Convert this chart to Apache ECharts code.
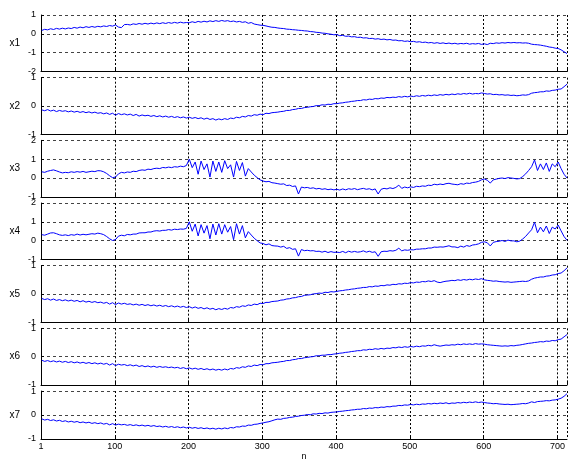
<!DOCTYPE html>
<html>
<head>
<meta charset="utf-8">
<script src="https://cdn.jsdelivr.net/npm/echarts@6/dist/echarts.min.js"></script>
<style>
  html, body { margin: 0; padding: 0; background: #fff; }
  #main { width: 568px; height: 462px; }
</style>
</head>
<body>
<div id="main"></div>
<script>
// samples read every 4 steps: n = 1, 5, 9, ... 713
var step = 4;
var xTicks = [0, 100, 200, 300, 400, 500, 600, 700];
var names = ['x1', 'x2', 'x3', 'x4', 'x5', 'x6', 'x7'];
var yMin = [-2, -1, -1, -1, -1, -1, -1];
var yMax = [1, 1, 2, 2, 1, 1, 1];

var x1 = [0.18,0.24,0.21,0.27,0.23,0.29,0.25,0.3,0.26,0.31,
  0.28,0.34,0.3,0.36,0.32,0.38,0.34,0.39,0.35,0.4,
  0.37,0.42,0.39,0.44,0.41,0.47,0.36,0.33,0.49,0.5,
  0.47,0.53,0.5,0.55,0.51,0.56,0.52,0.57,0.53,0.58,
  0.54,0.59,0.55,0.6,0.56,0.61,0.57,0.62,0.58,0.6,
  0.59,0.64,0.6,0.66,0.62,0.67,0.63,0.69,0.65,0.7,
  0.66,0.71,0.67,0.7,0.65,0.68,0.63,0.66,0.61,0.64,
  0.56,0.6,0.52,0.49,0.46,0.45,0.42,0.38,0.35,0.34,
  0.31,0.29,0.28,0.25,0.24,0.22,0.21,0.19,0.18,0.16,
  0.15,0.12,0.11,0.08,0.07,0.04,0.03,0.0,-0.02,-0.05,
  -0.04,-0.1,-0.08,-0.13,-0.12,-0.16,-0.15,-0.19,-0.18,-0.22,
  -0.21,-0.25,-0.24,-0.28,-0.26,-0.3,-0.28,-0.32,-0.3,-0.34,
  -0.33,-0.37,-0.36,-0.4,-0.38,-0.42,-0.4,-0.44,-0.42,-0.46,
  -0.44,-0.48,-0.46,-0.5,-0.47,-0.51,-0.48,-0.52,-0.49,-0.53,
  -0.5,-0.54,-0.51,-0.53,-0.5,-0.55,-0.52,-0.54,-0.51,-0.56,
  -0.53,-0.57,-0.5,-0.52,-0.48,-0.5,-0.47,-0.49,-0.46,-0.48,
  -0.46,-0.48,-0.47,-0.49,-0.48,-0.5,-0.55,-0.57,-0.58,-0.6,
  -0.63,-0.66,-0.7,-0.72,-0.76,-0.78,-0.85,-0.95,-1.05];

var x2 = [-0.14,-0.17,-0.13,-0.18,-0.15,-0.2,-0.16,-0.19,-0.17,-0.21,
  -0.18,-0.22,-0.19,-0.23,-0.2,-0.24,-0.21,-0.25,-0.22,-0.26,
  -0.24,-0.28,-0.25,-0.3,-0.26,-0.33,-0.27,-0.31,-0.28,-0.32,
  -0.29,-0.34,-0.3,-0.36,-0.32,-0.35,-0.33,-0.37,-0.34,-0.38,
  -0.35,-0.39,-0.36,-0.4,-0.37,-0.41,-0.38,-0.42,-0.39,-0.43,
  -0.4,-0.44,-0.41,-0.45,-0.42,-0.47,-0.43,-0.48,-0.45,-0.5,
  -0.46,-0.49,-0.45,-0.48,-0.43,-0.45,-0.4,-0.42,-0.37,-0.39,
  -0.34,-0.36,-0.31,-0.33,-0.29,-0.31,-0.26,-0.27,-0.24,-0.23,
  -0.22,-0.2,-0.19,-0.16,-0.16,-0.13,-0.12,-0.09,-0.09,-0.06,
  -0.05,-0.03,-0.02,0.01,0.01,0.04,0.03,0.06,0.05,0.08,
  0.08,0.1,0.11,0.13,0.14,0.16,0.17,0.19,0.19,0.22,
  0.21,0.24,0.23,0.26,0.25,0.28,0.27,0.3,0.29,0.31,
  0.3,0.33,0.31,0.34,0.32,0.35,0.33,0.36,0.34,0.37,
  0.35,0.38,0.36,0.39,0.37,0.4,0.38,0.41,0.39,0.42,
  0.4,0.43,0.41,0.44,0.42,0.45,0.42,0.44,0.43,0.46,
  0.44,0.42,0.43,0.4,0.41,0.39,0.4,0.38,0.39,0.37,
  0.38,0.36,0.37,0.39,0.38,0.4,0.45,0.47,0.48,0.5,
  0.5,0.53,0.52,0.55,0.56,0.59,0.6,0.68,0.77];

var x3 = [0.33,0.3,0.36,0.4,0.43,0.38,0.32,0.27,0.3,0.28,
  0.33,0.3,0.34,0.31,0.35,0.3,0.33,0.36,0.34,0.39,
  0.38,0.33,0.24,0.12,0.02,0.05,0.22,0.3,0.27,0.32,
  0.3,0.36,0.34,0.4,0.43,0.41,0.47,0.45,0.5,0.52,
  0.5,0.56,0.54,0.58,0.55,0.6,0.58,0.63,0.6,0.66,
  1.0,0.55,0.85,0.2,0.9,0.45,0.75,0.05,0.9,0.35,
  0.85,0.3,0.92,0.5,0.7,0.05,0.88,0.4,0.82,0.1,
  0.5,0.32,0.15,0.02,-0.1,-0.16,-0.2,-0.18,-0.25,-0.27,
  -0.3,-0.33,-0.31,-0.4,-0.38,-0.45,-0.42,-0.85,-0.48,-0.52,
  -0.5,-0.55,-0.52,-0.58,-0.55,-0.6,-0.57,-0.62,-0.59,-0.63,
  -0.6,-0.64,-0.58,-0.63,-0.57,-0.6,-0.56,-0.62,-0.58,-0.55,
  -0.6,-0.57,-0.63,-0.58,-0.85,-0.6,-0.55,-0.58,-0.52,-0.56,
  -0.5,-0.38,-0.55,-0.48,-0.52,-0.47,-0.5,-0.44,-0.46,-0.42,
  -0.44,-0.38,-0.4,-0.33,-0.36,-0.32,-0.35,-0.3,-0.28,-0.32,
  -0.34,-0.36,-0.3,-0.33,-0.27,-0.29,-0.24,-0.22,-0.18,-0.1,
  -0.05,-0.12,-0.27,-0.1,-0.06,-0.02,0.0,-0.03,0.02,0.0,
  -0.02,-0.05,-0.03,0.08,0.22,0.4,0.6,0.96,0.4,0.75,
  0.45,0.8,0.35,0.75,0.6,0.85,0.5,0.2,0.0];

var x4 = [0.32,0.29,0.35,0.41,0.42,0.37,0.31,0.28,0.31,0.27,
  0.32,0.29,0.35,0.3,0.34,0.31,0.34,0.37,0.35,0.4,
  0.37,0.32,0.22,0.1,0.01,0.06,0.24,0.29,0.26,0.33,
  0.31,0.35,0.35,0.41,0.42,0.42,0.46,0.46,0.51,0.53,
  0.51,0.55,0.55,0.59,0.56,0.61,0.59,0.62,0.61,0.65,
  1.0,0.5,0.88,0.25,0.85,0.4,0.8,0.1,0.88,0.3,
  0.9,0.35,0.85,0.45,0.75,0.05,0.9,0.35,0.8,0.15,
  0.48,0.3,0.13,0.0,-0.12,-0.15,-0.22,-0.17,-0.26,-0.28,
  -0.29,-0.34,-0.3,-0.41,-0.37,-0.46,-0.43,-0.82,-0.47,-0.53,
  -0.51,-0.54,-0.53,-0.57,-0.56,-0.61,-0.56,-0.63,-0.58,-0.62,
  -0.61,-0.63,-0.57,-0.64,-0.56,-0.61,-0.57,-0.61,-0.59,-0.54,
  -0.61,-0.56,-0.62,-0.59,-0.83,-0.59,-0.56,-0.57,-0.53,-0.55,
  -0.51,-0.4,-0.54,-0.49,-0.51,-0.48,-0.49,-0.45,-0.45,-0.43,
  -0.43,-0.39,-0.39,-0.34,-0.35,-0.33,-0.34,-0.31,-0.27,-0.33,
  -0.33,-0.37,-0.29,-0.34,-0.26,-0.3,-0.23,-0.21,-0.17,-0.09,
  -0.06,-0.11,-0.28,-0.09,-0.05,-0.03,0.01,-0.04,0.03,-0.01,
  -0.01,-0.06,-0.02,0.09,0.23,0.41,0.58,0.98,0.42,0.72,
  0.47,0.78,0.38,0.72,0.62,0.83,0.52,0.22,0.02];

var x5 = [-0.16,-0.2,-0.17,-0.22,-0.18,-0.23,-0.2,-0.24,-0.21,-0.25,
  -0.22,-0.26,-0.23,-0.28,-0.24,-0.29,-0.26,-0.3,-0.27,-0.31,
  -0.29,-0.33,-0.3,-0.36,-0.31,-0.38,-0.32,-0.36,-0.33,-0.37,
  -0.35,-0.39,-0.36,-0.4,-0.37,-0.41,-0.38,-0.42,-0.39,-0.43,
  -0.4,-0.44,-0.41,-0.45,-0.42,-0.46,-0.43,-0.47,-0.44,-0.48,
  -0.45,-0.5,-0.46,-0.51,-0.48,-0.53,-0.49,-0.54,-0.51,-0.56,
  -0.52,-0.55,-0.51,-0.54,-0.48,-0.5,-0.45,-0.47,-0.42,-0.44,
  -0.39,-0.41,-0.36,-0.38,-0.33,-0.34,-0.3,-0.3,-0.27,-0.26,
  -0.25,-0.22,-0.21,-0.18,-0.17,-0.14,-0.13,-0.1,-0.09,-0.05,
  -0.04,-0.03,0.0,0.01,0.03,0.02,0.06,0.05,0.08,0.07,
  0.09,0.11,0.12,0.14,0.15,0.17,0.18,0.2,0.21,0.23,
  0.23,0.26,0.25,0.28,0.27,0.3,0.29,0.32,0.31,0.34,
  0.33,0.36,0.35,0.38,0.37,0.4,0.39,0.42,0.41,0.44,
  0.43,0.46,0.44,0.47,0.42,0.4,0.43,0.45,0.46,0.48,
  0.47,0.5,0.48,0.51,0.49,0.52,0.5,0.53,0.51,0.54,
  0.5,0.48,0.47,0.45,0.46,0.44,0.43,0.42,0.43,0.41,
  0.42,0.43,0.44,0.45,0.44,0.46,0.52,0.56,0.58,0.6,
  0.6,0.63,0.64,0.67,0.68,0.72,0.74,0.82,0.92];

var x6 = [-0.13,-0.17,-0.14,-0.18,-0.15,-0.19,-0.16,-0.2,-0.17,-0.21,
  -0.18,-0.22,-0.19,-0.23,-0.2,-0.24,-0.21,-0.25,-0.22,-0.26,
  -0.23,-0.27,-0.24,-0.3,-0.25,-0.32,-0.27,-0.3,-0.28,-0.32,
  -0.29,-0.33,-0.3,-0.35,-0.32,-0.36,-0.33,-0.37,-0.34,-0.38,
  -0.35,-0.38,-0.36,-0.39,-0.37,-0.4,-0.38,-0.42,-0.39,-0.43,
  -0.4,-0.44,-0.41,-0.45,-0.42,-0.46,-0.43,-0.47,-0.44,-0.48,
  -0.45,-0.48,-0.44,-0.47,-0.42,-0.44,-0.39,-0.41,-0.36,-0.38,
  -0.33,-0.35,-0.3,-0.32,-0.28,-0.29,-0.25,-0.25,-0.22,-0.21,
  -0.2,-0.18,-0.17,-0.14,-0.14,-0.11,-0.1,-0.07,-0.07,-0.04,
  -0.03,-0.01,0.0,0.03,0.03,0.05,0.05,0.07,0.07,0.09,
  0.1,0.12,0.13,0.15,0.16,0.18,0.19,0.21,0.21,0.24,
  0.23,0.26,0.25,0.28,0.26,0.29,0.27,0.3,0.29,0.32,
  0.31,0.34,0.32,0.35,0.33,0.36,0.34,0.37,0.35,0.38,
  0.37,0.4,0.38,0.42,0.39,0.37,0.39,0.41,0.4,0.42,
  0.41,0.44,0.42,0.45,0.43,0.45,0.43,0.46,0.44,0.45,
  0.44,0.42,0.41,0.4,0.39,0.38,0.37,0.38,0.37,0.39,
  0.38,0.4,0.41,0.43,0.45,0.47,0.48,0.5,0.51,0.53,
  0.52,0.55,0.54,0.57,0.56,0.6,0.62,0.7,0.78];

var x7 = [-0.16,-0.21,-0.18,-0.23,-0.2,-0.25,-0.22,-0.27,-0.24,-0.29,
  -0.26,-0.3,-0.27,-0.32,-0.29,-0.33,-0.3,-0.35,-0.32,-0.36,
  -0.33,-0.38,-0.35,-0.41,-0.36,-0.42,-0.38,-0.41,-0.39,-0.43,
  -0.4,-0.44,-0.41,-0.45,-0.42,-0.46,-0.43,-0.47,-0.44,-0.48,
  -0.46,-0.5,-0.47,-0.51,-0.48,-0.52,-0.49,-0.53,-0.5,-0.54,
  -0.51,-0.55,-0.52,-0.56,-0.53,-0.57,-0.54,-0.58,-0.55,-0.59,
  -0.55,-0.58,-0.54,-0.57,-0.52,-0.54,-0.49,-0.5,-0.46,-0.47,
  -0.42,-0.43,-0.39,-0.38,-0.35,-0.33,-0.3,-0.28,-0.24,-0.2,
  -0.17,-0.18,-0.14,-0.13,-0.1,-0.09,-0.06,-0.05,-0.02,-0.01,
  0.02,0.01,0.05,0.04,0.07,0.06,0.09,0.08,0.11,0.12,
  0.13,0.15,0.16,0.18,0.19,0.21,0.22,0.24,0.24,0.27,
  0.26,0.29,0.28,0.31,0.3,0.33,0.32,0.35,0.34,0.37,
  0.37,0.4,0.39,0.42,0.41,0.44,0.42,0.45,0.43,0.46,
  0.45,0.48,0.46,0.49,0.47,0.5,0.48,0.51,0.47,0.5,
  0.49,0.52,0.5,0.53,0.51,0.54,0.52,0.55,0.52,0.54,
  0.52,0.5,0.49,0.47,0.48,0.46,0.45,0.44,0.45,0.43,
  0.44,0.45,0.46,0.48,0.47,0.5,0.55,0.52,0.56,0.57,
  0.58,0.6,0.59,0.62,0.63,0.66,0.7,0.78,0.89];

var allSeries = [x1, x2, x3, x4, x5, x6, x7];

function toPairs(values){
  var out = [];
  for (var i = 0; i < values.length; i++) {
    out.push([1 + i * step, values[i]]);
  }
  return out;
}

function drawPanels(id){
  var grids = [], xAxes = [], yAxes = [], series = [];
  var top0 = 15, gap = 62.67, h = 56.5;
  for (var k = 0; k < names.length; k++) {
    var last = (k === names.length - 1);
    grids.push({ left: 41, right: 1, top: top0 + k * gap, height: h });
    xAxes.push({
      type: 'value', gridIndex: k, min: 0, max: 713, interval: 100,
      name: last ? 'n' : '', nameLocation: 'middle', nameGap: 13,
      nameTextStyle: { color: '#000', fontSize: 9, fontFamily: 'Liberation Sans' },
      axisLine: { show: true, onZero: false, lineStyle: { color: '#000', width: 1 } },
      axisTick: { show: true, inside: true, length: 3, lineStyle: { color: '#000' } },
      axisLabel: {
        show: last, color: '#000', fontSize: 9, fontFamily: 'Liberation Sans', margin: 3,
        showMaxLabel: false,
        formatter: function (v) {
          if (xTicks.indexOf(v) < 0) return '';
          return v === 0 ? '1' : String(v);
        }
      },
      splitLine: { show: true, lineStyle: { color: '#000', type: [2, 2], width: 1 } }
    });
    yAxes.push({
      type: 'value', gridIndex: k, min: yMin[k], max: yMax[k], interval: 1,
      name: names[k], nameLocation: 'middle', nameGap: 21, nameRotate: 0,
      nameTextStyle: { color: '#000', fontSize: 10, fontFamily: 'Liberation Sans', padding: [0, 0, 6, 0] },
      axisLine: { show: true, onZero: false, lineStyle: { color: '#000', width: 1 } },
      axisTick: { show: true, inside: true, length: 3, lineStyle: { color: '#000' } },
      axisLabel: { color: '#000', fontSize: 9, fontFamily: 'Liberation Sans', margin: 5 },
      splitLine: { show: true, lineStyle: { color: '#444', type: [3, 3], width: 1 } }
    });
    series.push({
      type: 'line', xAxisIndex: k, yAxisIndex: k,
      data: toPairs(allSeries[k]),
      showSymbol: false, symbol: 'none', animation: false,
      lineStyle: { color: '#0000ff', width: 1 }
    });
  }

  var option = {
    backgroundColor: '#fff',
    animation: false,
    grid: grids,
    xAxis: xAxes,
    yAxis: yAxes,
    series: series
  };
  var myChart = echarts.init(document.getElementById(id));
  myChart.setOption(option);
}

drawPanels('main');
</script>
</body>
</html>
